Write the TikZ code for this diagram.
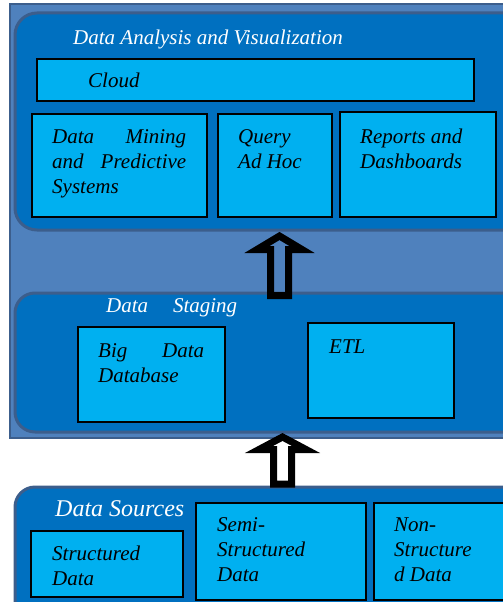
\documentclass[tikz,border=0pt]{standalone}
\usepackage{fontspec}
\setmainfont{Liberation Serif}
\definecolor{midblue}{HTML}{4F81BD}
\definecolor{darkblue}{HTML}{0070C0}
\definecolor{cyanbox}{HTML}{00B0F0}
\definecolor{edgeblue}{HTML}{3C5E8C}
\tikzset{
  layer/.style={fill=darkblue, draw=edgeblue, line width=3pt, rounded corners=22pt},
  cbox/.style={fill=cyanbox, draw=black, line width=1.5pt},
  txt/.style={inner sep=0pt, anchor=base west, font=\fontsize{21}{25}\selectfont\itshape},
  wtxt/.style={txt, text=white},
  bigarrow/.style={draw=black, line width=7pt, line join=miter, miter limit=10}
}
\begin{document}
\begin{tikzpicture}[x=1pt,y=-1pt]
\useasboundingbox (0,0) rectangle (503,602);
\clip (0,0) rectangle (503,602);
% outer panel
\fill[midblue, draw=edgeblue, line width=1.5pt] (10,4) rectangle (520,438);
% top layer
\path[layer] (15,13) rectangle (525,230);
\node[wtxt] (t1) at (73,45) {Data Analysis and Visualization};
\draw[cbox] (37,59) rectangle (474,101);
\node[txt] (cloud) at (88,88) {Cloud};
\draw[cbox] (32,114) rectangle (207,217);
\node[txt] (dm) at (52,143) {\begin{tabular}[t]{@{}l@{}}\makebox[134pt][l]{Data\hfill Mining}\\\makebox[134pt][l]{and\hfill Predictive}\\Systems\end{tabular}};
\draw[cbox] (218,114) rectangle (332,217);
\node[txt] (q) at (238,143) {\begin{tabular}[t]{@{}l@{}}Query\\Ad Hoc\end{tabular}};
\draw[cbox] (340,112) rectangle (496,217);
\node[txt] (rep) at (360,143) {\begin{tabular}[t]{@{}l@{}}Reports and\\Dashboards\end{tabular}};
% staging layer
\path[layer, rounded corners=20pt] (15,293) rectangle (525,432);
\node[wtxt] (t2) at (106,312) {\makebox[131pt][l]{Data\hfill Staging}};
\draw[cbox] (78,327) rectangle (225,422);
\node[txt] (bd) at (98,357) {\begin{tabular}[t]{@{}l@{}}\makebox[106pt][l]{Big\hfill Data}\\Database\end{tabular}};
\draw[cbox] (308,323) rectangle (454,418);
\node[txt] (etl) at (329,353) {ETL};
% sources layer
\path[layer, rounded corners=20pt] (15,487) rectangle (525,640);
\node[wtxt, font=\fontsize{24}{28}\selectfont\itshape] (t3) at (55,516) {Data Sources};
\draw[cbox] (31,531) rectangle (183,597);
\node[txt] (sd) at (52,560) {\begin{tabular}[t]{@{}l@{}}Structured\\Data\end{tabular}};
\draw[cbox] (196,503) rectangle (366,600);
\node[txt] (ssd) at (217,531) {\begin{tabular}[t]{@{}l@{}}Semi-\\Structured\\Data\end{tabular}};
\draw[cbox] (374,503) rectangle (520,600);
\node[txt] (nsd) at (394,531) {\begin{tabular}[t]{@{}l@{}}Non-\\Structure\\d Data\end{tabular}};
% arrows
\draw[bigarrow] (279.5,236) -- (302,249.5) -- (288.5,249.5) -- (288.5,295.5) -- (270.5,295.5) -- (270.5,249.5) -- (257,249.5) -- cycle;
\draw[bigarrow] (282.5,437) -- (306,449.5) -- (291.5,449.5) -- (291.5,484) -- (273.5,484) -- (273.5,449.5) -- (259,449.5) -- cycle;
\end{tikzpicture}
\end{document}
